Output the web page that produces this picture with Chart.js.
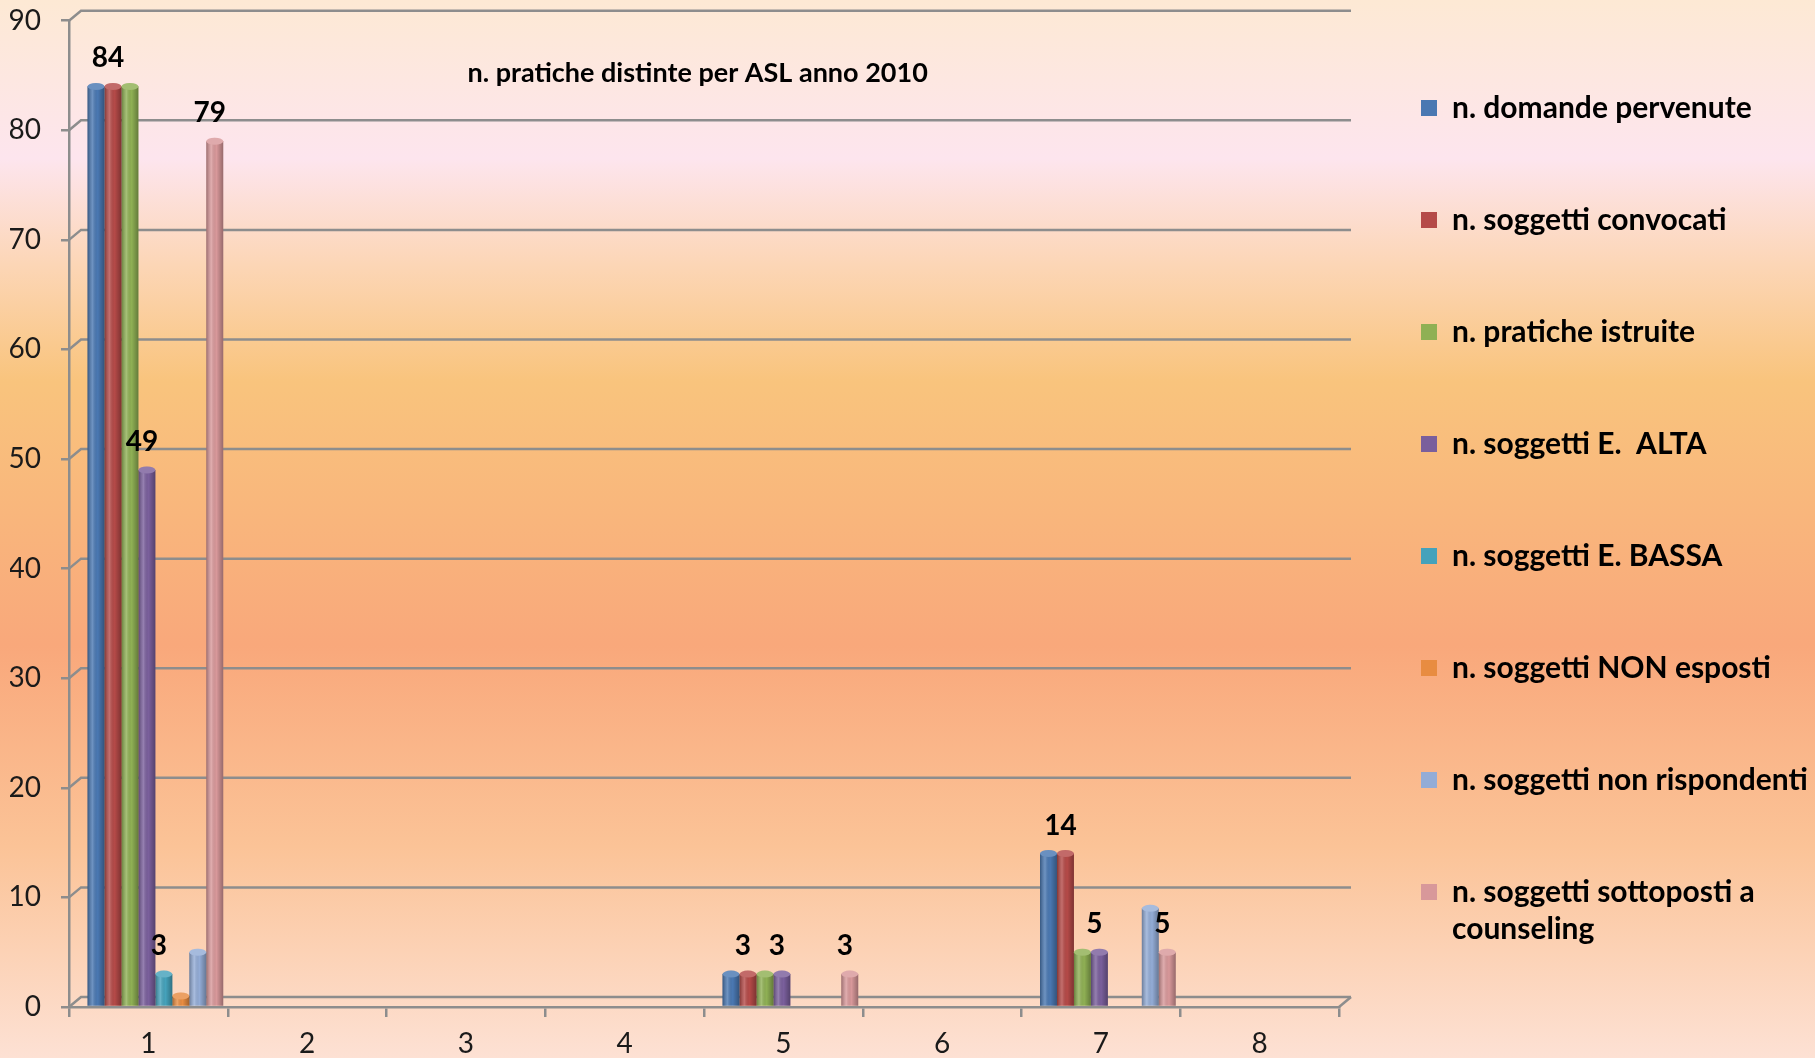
<!DOCTYPE html>
<html>
<head>
<meta charset="utf-8">
<script src="https://cdn.jsdelivr.net/npm/chart.js@4.4.1/dist/chart.umd.min.js"></script>
<style>
    html, body { margin: 0; padding: 0; overflow: hidden; }
</style>
</head>
<body>
<canvas id="chart" width="1815" height="1058"></canvas>
<script>
// dati
const categories = ['1', '2', '3', '4', '5', '6', '7', '8'];
const seriesNames = [
    'n. domande pervenute',
    'n. soggetti convocati',
    'n. pratiche istruite',
    'n. soggetti E.  ALTA',
    'n. soggetti E. BASSA',
    'n. soggetti NON esposti',
    'n. soggetti non rispondenti',
    'n. soggetti sottoposti a\ncounseling'
];
const domande = [84, 0, 0, 0, 3, 0, 14, 0];
const convocati = [84, 0, 0, 0, 3, 0, 14, 0];
const istruite = [84, 0, 0, 0, 3, 0, 5, 0];
const esposAlta = [49, 0, 0, 0, 3, 0, 5, 0];
const esposBassa = [3, 0, 0, 0, 0, 0, 0, 0];
const nonEsposti = [1, 0, 0, 0, 0, 0, 0, 0];
const nonRispondenti = [5, 0, 0, 0, 0, 0, 9, 0];
const counseling = [79, 0, 0, 0, 3, 0, 5, 0];
const yTicks = [0, 10, 20, 30, 40, 50, 60, 70, 80, 90];
const chartTitle = 'n. pratiche distinte per ASL anno 2010';

const seriesData = [domande, convocati, istruite, esposAlta, esposBassa, nonEsposti, nonRispondenti, counseling];
const barColors = ['#4a78b2', '#b54a48', '#8fb054', '#7a5f9c', '#45a2bb', '#e88c41', '#93acd6', '#d8989a'];
const labeledSeries = [1, 3, 4, 7]; // serie con etichetta del valore

const GRID = '#8d8d8d';
const DX = 12, DY = 10; // profondita' finta 3D
const BAR_SHIFT = 7;    // le barre stanno a meta' profondita'

// sfondo sfumato
const backgroundPlugin = {
    id: 'sfondo',
    beforeDraw(chart) {
        let ctx = chart.ctx;
        let g = ctx.createLinearGradient(0, 0, 0, chart.height);
        g.addColorStop(0, '#fde9d4');
        g.addColorStop(0.15, '#fde5ee');
        g.addColorStop(0.25, '#fcd6b6');
        g.addColorStop(0.36, '#f9c47d');
        g.addColorStop(0.61, '#f9a87b');
        g.addColorStop(0.8, '#fbc397');
        g.addColorStop(1, '#fde1d4');
        ctx.save();
        ctx.fillStyle = g;
        ctx.fillRect(0, 0, chart.width, chart.height);
        ctx.restore();
    }
};

// griglia della parete di fondo
const wallPlugin = {
    id: 'parete',
    afterDatasetsUpdate(chart) {
        chart.data.datasets.forEach((ds, di) => {
            chart.getDatasetMeta(di).data.forEach(bar => { bar.x += BAR_SHIFT; });
        });
    },
    beforeDatasetsDraw(chart) {
        let ctx = chart.ctx;
        let a = chart.chartArea;
        let y = chart.scales.y;
        ctx.save();
        ctx.strokeStyle = GRID;
        ctx.lineWidth = 2.5;
        yTicks.forEach(v => {
            let py = y.getPixelForValue(v);
            ctx.beginPath();
            ctx.moveTo(a.left, py);
            ctx.lineTo(a.left + DX, py - DY);
            ctx.lineTo(a.right + DX, py - DY);
            ctx.stroke();
        });
        ctx.beginPath();
        ctx.moveTo(a.right, a.bottom);
        ctx.lineTo(a.right + DX, a.bottom - DY);
        ctx.stroke();
        ctx.restore();
    }
};

// effetto cilindro, etichette e titolo
const barsPlugin = {
    id: 'cilindri',
    afterDatasetsDraw(chart) {
        let ctx = chart.ctx;
        ctx.save();
        chart.data.datasets.forEach((ds, di) => {
            let meta = chart.getDatasetMeta(di);
            meta.data.forEach((bar, i) => {
                if (!ds.data[i]) return;
                let w = bar.width, x0 = bar.x - w / 2;
                let g = ctx.createLinearGradient(x0, 0, x0 + w, 0);
                g.addColorStop(0, 'rgba(0,0,0,0.28)');
                g.addColorStop(0.3, 'rgba(255,255,255,0.2)');
                g.addColorStop(0.6, 'rgba(0,0,0,0)');
                g.addColorStop(1, 'rgba(0,0,0,0.3)');
                ctx.fillStyle = g;
                ctx.fillRect(x0, bar.y, w, bar.base - bar.y);
                ctx.beginPath();
                ctx.ellipse(bar.x, bar.y, w / 2, Math.min(3.5, (bar.base - bar.y) / 2 + 1), 0, 0, Math.PI * 2);
                ctx.fillStyle = ds.backgroundColor;
                ctx.fill();
                ctx.fillStyle = 'rgba(255,255,255,0.18)';
                ctx.fill();
            });
        });

        ctx.fillStyle = '#000';
        ctx.font = 'bold 28px Lato';
        ctx.textAlign = 'center';
        ctx.textBaseline = 'middle';
        labeledSeries.forEach(di => {
            let meta = chart.getDatasetMeta(di);
            meta.data.forEach((bar, i) => {
                let v = chart.data.datasets[di].data[i];
                if (!v) return;
                ctx.fillText(String(v), bar.x - 5, bar.y - 28);
            });
        });
        ctx.restore();
    },
    afterDraw(chart) {
        let ctx = chart.ctx;
        let a = chart.chartArea;
        ctx.save();
        ctx.fillStyle = '#000';
        ctx.font = 'bold 27px Lato';
        ctx.textAlign = 'center';
        ctx.textBaseline = 'middle';
        ctx.fillText(chartTitle, a.left + (a.right - a.left) * 0.495, a.top + 53);
        ctx.restore();
    }
};

let ctx = document.getElementById('chart').getContext('2d');
let chart = new Chart(ctx, {
    type: 'bar',
    data: {
        labels: categories,
        datasets: seriesNames.map((name, i) => ({
            label: name,
            data: seriesData[i],
            backgroundColor: barColors[i],
            borderWidth: 0,
            categoryPercentage: 0.855,
            barPercentage: 1
        }))
    },
    options: {
        responsive: false,
        animation: false,
        devicePixelRatio: 1,
        layout: { padding: { top: 11, left: 10, right: 0, bottom: 0 } },
        scales: {
            x: {
                offset: true,
                grid: { display: true, drawOnChartArea: false, drawTicks: true, tickLength: 10, color: GRID, lineWidth: 2.5, offset: true },
                border: { display: true, color: GRID, width: 2.5 },
                ticks: { color: '#1a1a1a', font: { family: 'Lato', size: 28 }, padding: 10 },
                afterFit(s) { s.height = 51; }
            },
            y: {
                min: 0,
                max: 90,
                afterBuildTicks(s) { s.ticks = yTicks.map(v => ({ value: v })); },
                grid: { display: true, drawOnChartArea: false, drawTicks: true, tickLength: 8, color: GRID, lineWidth: 2.5 },
                border: { display: true, color: GRID, width: 2.5 },
                ticks: { color: '#1a1a1a', font: { family: 'Lato', size: 28, lineHeight: 0.05 }, padding: 20 },
                afterFit(s) { s.width = 59; }
            }
        },
        plugins: {
            legend: {
                position: 'right',
                align: 'start',
                maxWidth: 476,
                labels: {
                    color: '#000',
                    font: { family: 'Lato', size: 30, weight: 'bold', lineHeight: 1.23 },
                    boxWidth: 16,
                    boxHeight: 16,
                    padding: 82,
                    generateLabels(chart) {
                        let items = Chart.defaults.plugins.legend.labels.generateLabels(chart);
                        items.forEach(it => {
                            if (it.text.indexOf('\n') >= 0) it.text = it.text.split('\n');
                            it.lineWidth = 0;
                        });
                        return items;
                    }
                }
            },
            tooltip: { enabled: false },
            title: { display: false }
        }
    },
    plugins: [backgroundPlugin, wallPlugin, barsPlugin]
});
</script>
</body>
</html>
